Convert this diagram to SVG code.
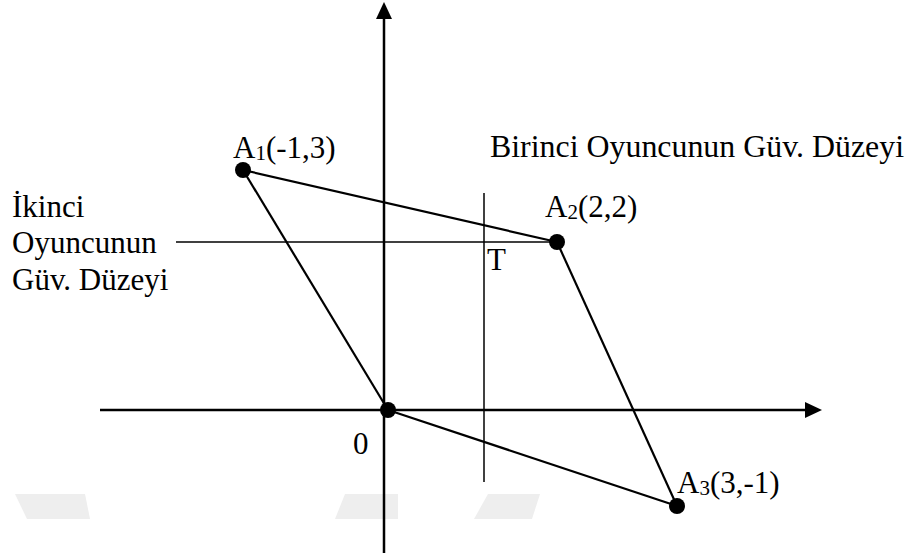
<svg xmlns="http://www.w3.org/2000/svg" width="909" height="558" viewBox="0 0 909 558">
<style>
.t{font-family:"Liberation Serif","Times New Roman",serif;font-size:31px;fill:#000}
.s{font-size:21px}
.ln{stroke:#000;stroke-width:2.2;fill:none}
.thin{stroke:#000;stroke-width:1.5;fill:none}
.ax{stroke:#000;stroke-width:2.5;fill:none}
</style>
<rect width="909" height="558" fill="#fff"/>
<g id="watermark" fill="#eeeeee">
<polygon points="15,494 85,494 90,519 27,519"/>
<polygon points="345,494 398,494 398,519 335,519"/>
<polygon points="488,494 540,494 532,519 474,519"/>
</g>
<g id="connectors">
<line class="ax" x1="384" y1="553" x2="384" y2="18"/>
<polygon points="384,2 376,19 392,19" fill="#000"/>
<line class="ax" x1="100" y1="410" x2="806" y2="410"/>
<polygon points="822,410 805,402 805,418" fill="#000"/>
<line class="ln" x1="243" y1="170" x2="557" y2="242"/>
<line class="ln" x1="557" y1="242" x2="677" y2="506"/>
<line class="ln" x1="677" y1="506" x2="388" y2="410"/>
<line class="ln" x1="388" y1="410" x2="243" y2="170"/>
<line class="thin" x1="176" y1="242" x2="557" y2="242"/>
<line class="thin" x1="484" y1="193" x2="484" y2="482"/>
</g>
<g id="A1"><circle cx="243" cy="170" r="8"/><text class="t" x="233" y="158">A<tspan class="s" dy="2">1</tspan><tspan dy="-2">(-1,3)</tspan></text></g>
<g id="A2"><circle cx="557" cy="242" r="8"/><text class="t" x="545" y="217">A<tspan class="s" dy="2">2</tspan><tspan dy="-2">(2,2)</tspan></text></g>
<g id="A3"><circle cx="677" cy="506" r="8"/><text class="t" x="677" y="493">A<tspan class="s" dy="2">3</tspan><tspan dy="-2">(3,-1)</tspan></text></g>
<g id="O"><circle cx="388" cy="410" r="8"/><text class="t" x="353" y="454">0</text></g>
<g id="T"><text class="t" x="487" y="270">T</text></g>
<g id="birinci"><text class="t" x="490" y="157" textLength="414" lengthAdjust="spacingAndGlyphs">Birinci Oyuncunun Güv. Düzeyi</text></g>
<g id="ikinci"><text class="t" x="12" y="217">İkinci</text><text class="t" x="12" y="253">Oyuncunun</text><text class="t" x="12" y="290">Güv. Düzeyi</text></g>
</svg>
